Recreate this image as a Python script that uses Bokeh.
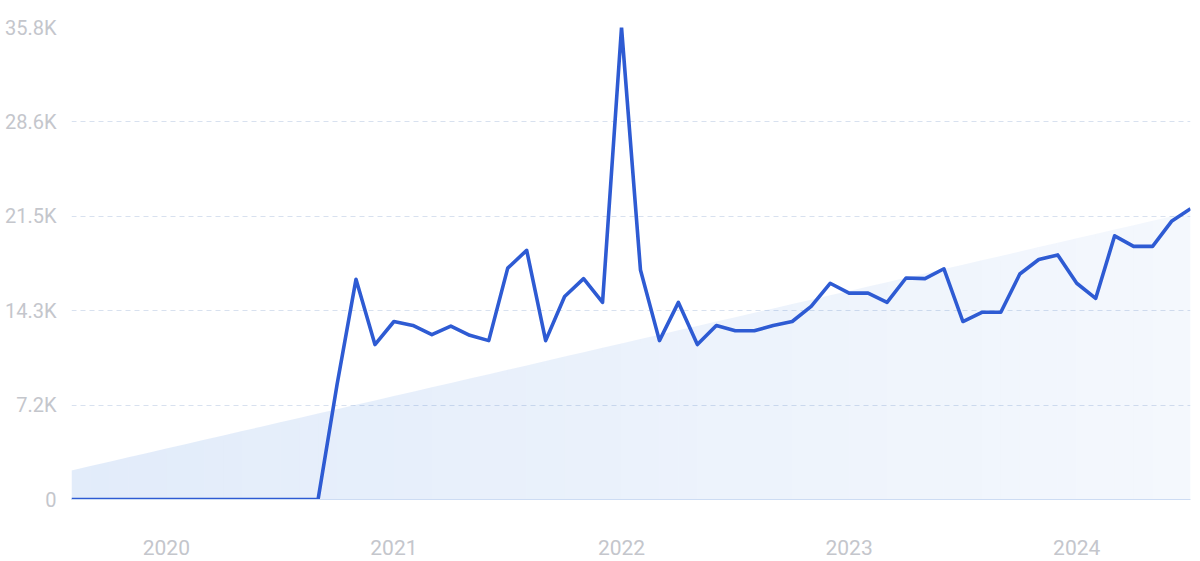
from bokeh.plotting import figure
from bokeh.models import Range1d, FixedTicker
from bokeh.embed import file_html
from bokeh.resources import INLINE

# Monthly values, Aug 2019 .. Jul 2024
months = [f"{y}-{m:02d}" for y in range(2019, 2025) for m in range(1, 13)][7:67]
values = [0, 0, 0, 0, 0, 0, 0, 0, 0, 0, 0, 0, 0, 0,
          8700, 16700, 11750, 13500, 13200, 12500, 13150, 12450, 12050, 17550, 18900,
          12050, 15400, 16750, 14950, 35800, 17400, 12050, 14950, 11750, 13200, 12800,
          12800, 13200, 13500, 14650, 16400, 15650, 15650, 14950, 16800, 16750, 17500,
          13500, 14200, 14200, 17100, 18200, 18550, 16400, 15250, 20000, 19200, 19200,
          21100, 22050]
trend_start = 2200
trend_end = 21800
y_ticks = [0, 7160, 14320, 21480, 28640, 35800]
y_tick_labels = ["0", "7.2K", "14.3K", "21.5K", "28.6K", "35.8K"]
year_labels = ["2020", "2021", "2022", "2023", "2024"]

n = len(values)
x = list(range(n))
trend = [trend_start + (trend_end - trend_start) * i / (n - 1) for i in x]

p = figure(width=1192, height=561, output_backend="svg", toolbar_location=None,
           x_range=Range1d(0, n - 1), y_range=Range1d(0, 35800),
           min_border_left=71, min_border_right=2, min_border_top=27, min_border_bottom=62)
p.outline_line_color = None
p.background_fill_color = "white"
p.border_fill_color = "white"

# gradient trend area as strips
for i in range(n - 1):
    a = 0.15 - (0.15 - 0.055) * (i / (n - 2))
    p.varea(x=[x[i], x[i + 1]], y1=[0, 0], y2=[trend[i], trend[i + 1]],
            fill_color="#3b7ddd", fill_alpha=a)

p.line(x, values, line_color="#2e5bd3", line_width=3.6, line_join="round")

# axes
jan_idx = [i for i, m in enumerate(months) if m.endswith("-01")]
p.xaxis.ticker = FixedTicker(ticks=jan_idx)
p.xaxis.major_label_overrides = {i: lab for i, lab in zip(jan_idx, year_labels)}
p.yaxis.ticker = FixedTicker(ticks=y_ticks)
p.yaxis.major_label_overrides = {t: lab for t, lab in zip(y_ticks, y_tick_labels)}

for ax in (p.xaxis, p.yaxis):
    ax.major_tick_line_color = None
    ax.minor_tick_line_color = None
    ax.major_label_text_color = "#c4c6cc"
    ax.major_label_text_font = "Roboto"
p.yaxis.axis_line_color = None
p.xaxis.axis_line_color = "#cddcf3"
p.xaxis.axis_line_width = 1
p.yaxis.major_label_text_font_size = "20px"
p.xaxis.major_label_text_font_size = "21px"
p.yaxis.major_label_standoff = 9
p.xaxis.major_label_standoff = 34

p.xgrid.grid_line_color = None
p.ygrid.grid_line_color = "#d8e1ef"
p.ygrid.grid_line_dash = "5 4"
p.ygrid.grid_line_width = 1

open("out.html", "w").write(file_html(p, INLINE))
